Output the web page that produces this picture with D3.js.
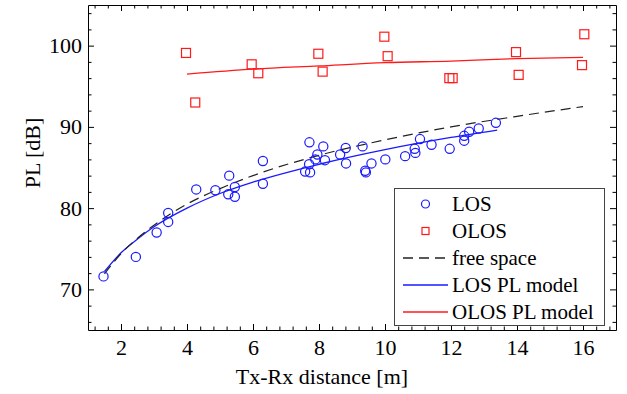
<!DOCTYPE html>
<html>
<head>
<meta charset="utf-8">
<script src="https://cdn.jsdelivr.net/npm/d3@7"></script>
<style>
  body { margin: 0; background: #fff; }
  svg text { font-family: "Liberation Serif", "Times New Roman", serif; fill: #000; }
</style>
</head>
<body>
<svg id="chart" width="627" height="394"></svg>
<script>
// measured points, LOS (circles)
const losDist = [1.47, 2.45, 3.08, 3.43, 3.43, 4.28, 4.86, 5.25, 5.28, 5.45, 5.45, 6.30, 6.30,
  7.58, 7.73, 7.70, 7.89, 7.95, 7.71, 8.13, 8.18, 8.64, 8.81, 8.82, 9.32, 9.40, 9.42, 9.59,
  10.01, 10.61, 10.90, 10.92, 11.06, 11.41, 11.96, 12.40, 12.40, 12.55, 12.84, 13.36];
const losPL = [71.6, 74.0, 77.0, 79.4, 78.3, 82.3, 82.2, 81.7, 84.0, 82.6, 81.4, 85.8, 83.0,
  84.5, 84.4, 85.4, 86.0, 86.6, 88.1, 87.6, 85.9, 86.6, 87.4, 85.5, 87.6, 84.6, 84.4, 85.5,
  86.0, 86.4, 87.3, 86.8, 88.5, 87.8, 87.3, 88.9, 88.3, 89.4, 89.8, 90.5];

// measured points, OLOS (squares)
const olosDist = [3.97, 4.25, 5.96, 6.16, 7.98, 8.11, 9.98, 10.08, 11.95, 12.05, 13.97, 14.05, 16.04, 15.97];
const olosPL = [99.1, 93.0, 97.7, 96.6, 99.0, 96.8, 101.1, 98.7, 96.0, 96.0, 99.2, 96.4, 101.4, 97.6];

// curves
const freeDist = [1.5, 2, 2.5, 3, 4, 5, 6, 8, 10, 12, 14, 16];
const freePL = [71.9, 74.4, 76.3, 77.9, 80.5, 82.4, 84.0, 86.5, 88.4, 90.0, 91.3, 92.5];

const losModelDist = [1.5, 2, 2.5, 3, 4, 5, 6, 8, 10, 12, 13.4];
const losModelPL = [72.2, 74.5, 76.2, 77.7, 80.0, 81.8, 83.2, 85.4, 87.2, 88.7, 89.6];

const olosModelDist = [4, 6, 8, 10, 12, 14, 16];
const olosModelPL = [96.5, 97.1, 97.5, 97.9, 98.1, 98.4, 98.55];

const xTicks = [2, 4, 6, 8, 10, 12, 14, 16];
const yTicks = [70, 80, 90, 100];

const legendLabels = ["LOS", "OLOS", "free space", "LOS PL model", "OLOS PL model"];

/** Path loss vs distance chart */
class PathLossChart {
  constructor() {
    this.svg = d3.select("#chart");
    this.x = d3.scaleLinear().domain([1, 17]).range([88, 616]);
    this.y = d3.scaleLinear().domain([65, 105]).range([330, 5]);
    this.blue = "#1a1aff";
    this.red = "#ff1a1a";
  }

  /**
   * frame with inward ticks on all four sides
   */
  drawAxes() {
    let x = this.x, y = this.y, svg = this.svg;
    let xMinor = d3.range(1.2, 17, 0.4).filter(v => Math.abs(v / 2 - Math.round(v / 2)) > 0.01);
    let yMinor = d3.range(66, 105, 2).filter(v => v % 10 != 0);

    let sides = [
      {axis: d3.axisBottom, scale: x, tr: "translate(0,330)", major: xTicks, minor: xMinor, labels: true},
      {axis: d3.axisTop, scale: x, tr: "translate(0,5)", major: xTicks, minor: xMinor, labels: false},
      {axis: d3.axisLeft, scale: y, tr: "translate(88,0)", major: yTicks, minor: yMinor, labels: true},
      {axis: d3.axisRight, scale: y, tr: "translate(616,0)", major: yTicks, minor: yMinor, labels: false}
    ];

    sides.forEach(s => {
      svg.append("g")
        .attr("transform", s.tr)
        .call(s.axis(s.scale).tickValues(s.minor).tickSizeInner(-3.5).tickSizeOuter(0).tickFormat(""))
        .call(g => g.select(".domain").remove());

      let g = svg.append("g")
        .attr("transform", s.tr)
        .call(s.axis(s.scale).tickValues(s.major).tickSizeInner(-6).tickSizeOuter(0)
          .tickPadding(s.axis == d3.axisBottom ? 9 : 6)
          .tickFormat(s.labels ? d3.format("d") : ""));
      g.selectAll("text").style("font-size", "22px").attr("font-family", null);
    });

    svg.selectAll(".tick line").attr("stroke", "#000");
    svg.selectAll(".domain").attr("stroke", "#000");

    svg.append("text")
      .attr("x", 322)
      .attr("y", 384)
      .attr("text-anchor", "middle")
      .style("font-size", "22px")
      .text("Tx-Rx distance [m]");

    svg.append("text")
      .attr("transform", "translate(40,153) rotate(-90)")
      .attr("text-anchor", "middle")
      .style("font-size", "22px")
      .text("PL [dB]");
  }

  /**
   * model and free space curves
   */
  drawLines() {
    let line = d3.line()
      .x(d => this.x(d[0]))
      .y(d => this.y(d[1]))
      .curve(d3.curveMonotoneX);

    this.svg.append("path")
      .datum(d3.zip(losModelDist, losModelPL))
      .attr("d", line)
      .attr("fill", "none")
      .attr("stroke", this.blue)
      .attr("stroke-width", 1.3);

    this.svg.append("path")
      .datum(d3.zip(olosModelDist, olosModelPL))
      .attr("d", line)
      .attr("fill", "none")
      .attr("stroke", this.red)
      .attr("stroke-width", 1.3);

    this.svg.append("path")
      .datum(d3.zip(freeDist, freePL))
      .attr("d", line)
      .attr("fill", "none")
      .attr("stroke", "#222")
      .attr("stroke-width", 1.2)
      .attr("stroke-dasharray", "10,6");
  }

  drawPoints() {
    this.svg.append("g")
      .selectAll("circle")
      .data(d3.zip(losDist, losPL))
      .enter()
      .append("circle")
      .attr("cx", d => this.x(d[0]))
      .attr("cy", d => this.y(d[1]))
      .attr("r", 4.6)
      .attr("fill", "none")
      .attr("stroke", this.blue)
      .attr("stroke-width", 1.2);

    this.svg.append("g")
      .selectAll("rect")
      .data(d3.zip(olosDist, olosPL))
      .enter()
      .append("rect")
      .attr("x", d => this.x(d[0]) - 4.5)
      .attr("y", d => this.y(d[1]) - 4.5)
      .attr("width", 9)
      .attr("height", 9)
      .attr("fill", "none")
      .attr("stroke", this.red)
      .attr("stroke-width", 1.2);
  }

  drawLegend() {
    let lg = this.svg.append("g");
    lg.append("rect")
      .attr("x", 394.5).attr("y", 188.5)
      .attr("width", 210).attr("height", 137)
      .attr("fill", "#fff")
      .attr("stroke", "#444")
      .attr("stroke-width", 1);

    let rowY = i => 204 + i * 27;

    lg.append("circle")
      .attr("cx", 425.5).attr("cy", rowY(0)).attr("r", 4)
      .attr("fill", "none").attr("stroke", this.blue).attr("stroke-width", 1.2);
    lg.append("rect")
      .attr("x", 422).attr("y", rowY(1) - 3.5).attr("width", 7).attr("height", 7)
      .attr("fill", "none").attr("stroke", this.red).attr("stroke-width", 1.2);

    let strokes = [["#222", "10,6"], [this.blue, null], [this.red, null]];
    strokes.forEach((s, i) => {
      lg.append("line")
        .attr("x1", 403).attr("x2", 448)
        .attr("y1", rowY(i + 2)).attr("y2", rowY(i + 2))
        .attr("stroke", s[0])
        .attr("stroke-width", 1.3)
        .attr("stroke-dasharray", s[1]);
    });

    lg.selectAll("text")
      .data(legendLabels)
      .enter()
      .append("text")
      .attr("x", 452)
      .attr("y", (d, i) => rowY(i))
      .attr("dy", "0.32em")
      .style("font-size", "21px")
      .text(d => d);
  }
}

let chart = new PathLossChart();
chart.drawAxes();
chart.drawLines();
chart.drawPoints();
chart.drawLegend();
</script>
</body>
</html>
